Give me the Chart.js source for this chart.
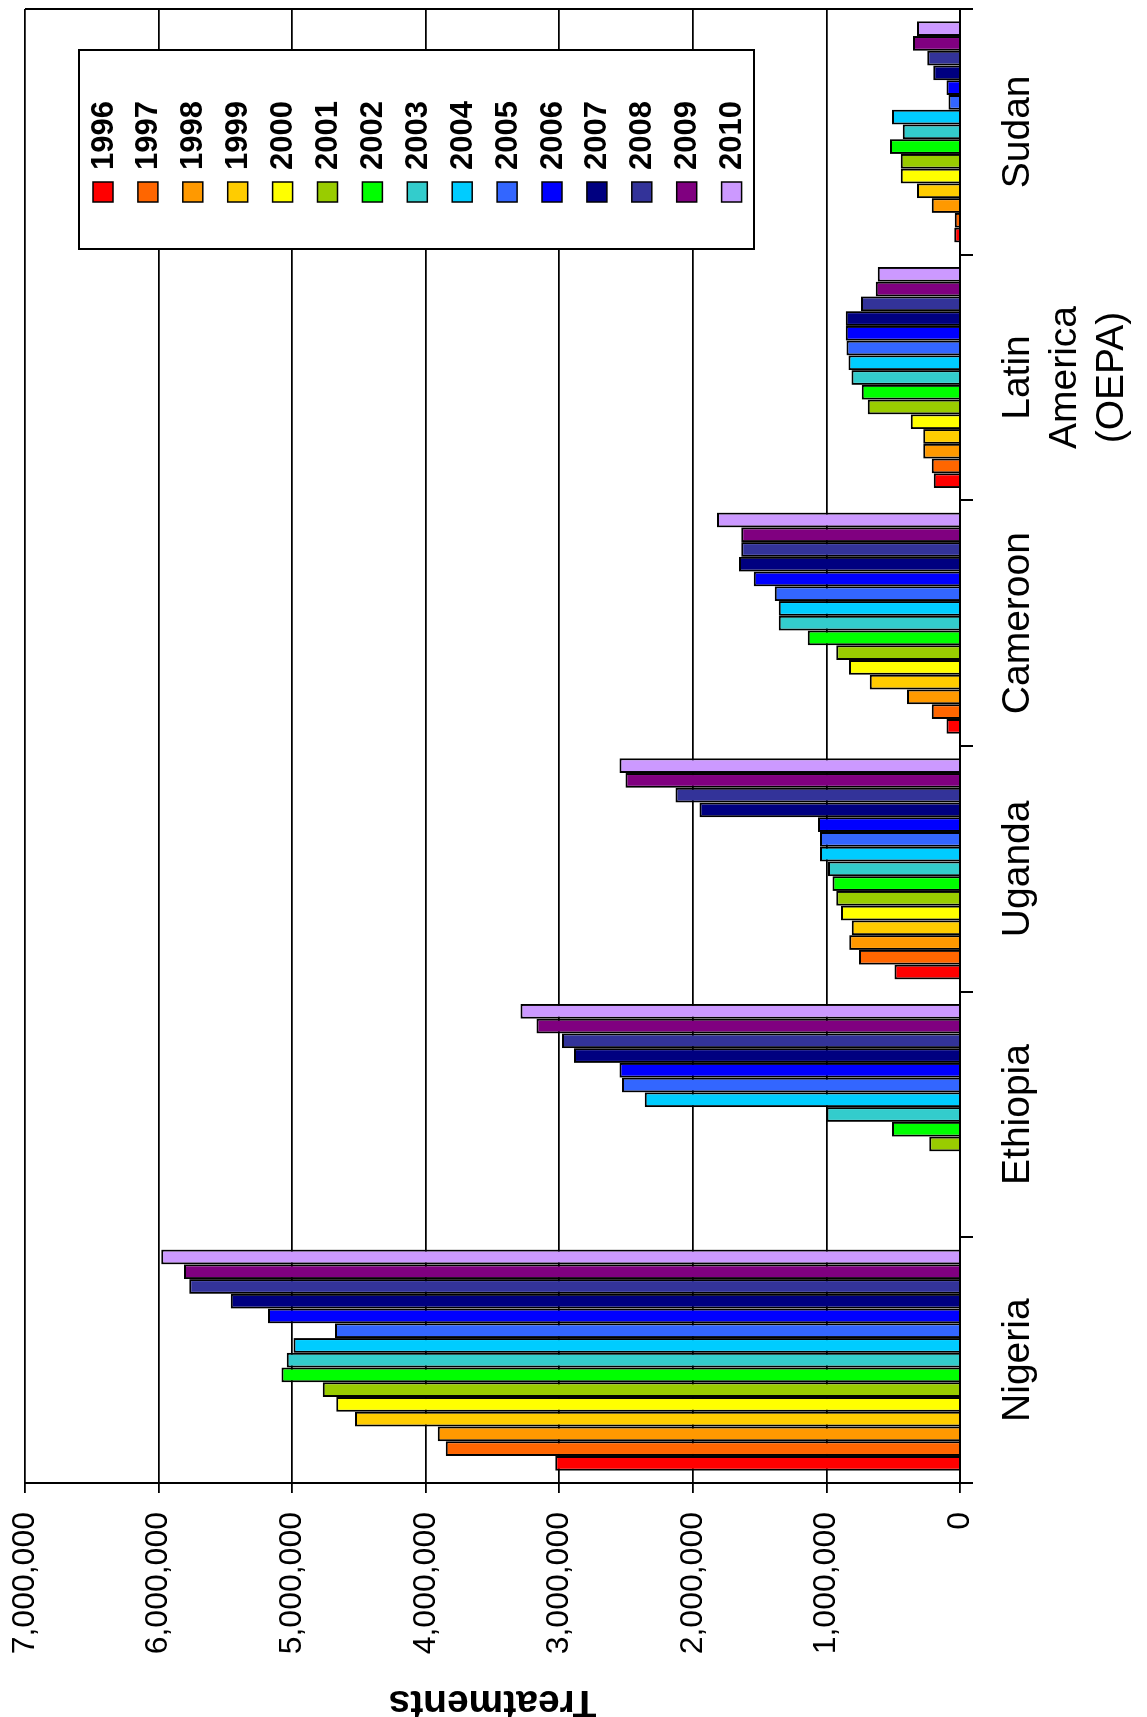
<!DOCTYPE html>
<html>
<head>
<meta charset="utf-8">
<script src="https://cdn.jsdelivr.net/npm/chart.js@4/dist/chart.umd.min.js"></script>
<style>
  html, body { margin: 0; padding: 0; background: #fff; overflow: hidden; }
  #wrap {
    position: absolute; left: 0; top: 0;
    width: 1717px; height: 1147px;
    transform-origin: 0 0;
    transform: translate(0, 1717px) rotate(-90deg);
  }
</style>
</head>
<body>
<div id="wrap"><canvas id="treatments-chart" width="1717" height="1147"></canvas></div>
<script>
const countries = ['Nigeria', 'Ethiopia', 'Uganda', 'Cameroon', ['Latin', 'America', '(OEPA)'], 'Sudan'];
const years = ['1996', '1997', '1998', '1999', '2000', '2001', '2002', '2003', '2004', '2005', '2006', '2007', '2008', '2009', '2010'];
const yearColors = ['#FF0000', '#FF6600', '#FF9900', '#FFCC00', '#FFFF00', '#99CC00', '#00FF00', '#33CCCC',
                    '#00CCFF', '#3366FF', '#0000FF', '#000080', '#333399', '#800080', '#CC99FF'];

// treatments per year, 1996..2010
const nigeria  = [3030000, 3850000, 3910000, 4530000, 4670000, 4770000, 5080000, 5040000, 4990000, 4680000, 5180000, 5460000, 5770000, 5810000, 5980000];
const ethiopia = [null, null, null, null, null, 230000, 510000, 1000000, 2360000, 2530000, 2550000, 2890000, 2980000, 3170000, 3290000];
const uganda   = [490000, 756000, 830000, 810000, 891000, 926000, 955000, 988000, 1048000, 1048000, 1063000, 1950000, 2130000, 2505000, 2550000];
const cameroon = [102000, 212000, 397000, 676000, 831000, 926000, 1140000, 1357000, 1357000, 1387000, 1544000, 1654000, 1637000, 1637000, 1820000];
const latinAm  = [197000, 212000, 275000, 275000, 369000, 691000, 736000, 813000, 835000, 850000, 855000, 855000, 741000, 631000, 616000];
const sudan    = [43000, 40000, 212000, 322000, 444000, 444000, 524000, 429000, 509000, 87000, 102000, 200000, 245000, 352000, 322000];

const valueTicks = [0, 1000000, 2000000, 3000000, 4000000, 5000000, 6000000, 7000000];

const byCountry = [nigeria, ethiopia, uganda, cameroon, latinAm, sudan];

const datasets = years.map((yr, i) => ({
    label: yr,
    data: byCountry.map(c => c[i]),
    backgroundColor: yearColors[i],
    borderColor: '#000',
    borderWidth: 2,
    categoryPercentage: 0.9,
    barPercentage: 1.0
}));

// boxed legend drawn inside the plot, plus the plot frame
const boxLegend = {
    id: 'boxLegend',
    afterDraw(chart) {
        const ctx = chart.ctx;
        const area = chart.chartArea;
        ctx.save();
        ctx.strokeStyle = '#000';
        ctx.lineWidth = 2;
        ctx.beginPath();
        ctx.moveTo(area.right, area.top);
        ctx.lineTo(area.right, area.bottom);
        ctx.stroke();

        const bx = area.right - 240, by = 79, bw = 199, bh = 675;
        ctx.fillStyle = '#fff';
        ctx.fillRect(bx, by, bw, bh);
        ctx.lineWidth = 2;
        ctx.strokeRect(bx, by, bw, bh);

        ctx.font = 'bold 31px "Liberation Sans", Arial, sans-serif';
        ctx.textBaseline = 'middle';
        ctx.textAlign = 'left';
        chart.data.datasets.forEach((ds, i) => {
            const cy = by + 24 + i * 44.9;
            ctx.fillStyle = ds.backgroundColor;
            ctx.fillRect(bx + 47, cy - 10, 20, 20);
            ctx.lineWidth = 1.5;
            ctx.strokeStyle = '#000';
            ctx.strokeRect(bx + 47, cy - 10, 20, 20);
            ctx.fillStyle = '#000';
            ctx.fillText(ds.label, bx + 79, cy + 1);
        });
        ctx.restore();
    }
};

const ctx = document.getElementById('treatments-chart').getContext('2d');
const treatmentsChart = new Chart(ctx, {
    type: 'bar',
    data: { labels: countries, datasets: datasets },
    options: {
        responsive: false,
        animation: false,
        devicePixelRatio: 1,
        layout: { padding: { left: 0, right: 9, top: 25, bottom: 0 } },
        plugins: {
            legend: { display: false },
            tooltip: { enabled: false }
        },
        scales: {
            x: {
                offset: true,
                grid: { offset: true, drawOnChartArea: false, drawTicks: true, tickLength: 13, color: '#000', lineWidth: 2 },
                border: { display: true, color: '#000', width: 2 },
                ticks: {
                    color: '#000',
                    padding: 22,
                    maxRotation: 0,
                    autoSkip: false,
                    font: { family: '"Liberation Sans", Arial, sans-serif', size: 39, lineHeight: 1.2 }
                },
                afterFit(scale) {
                    scale.height = 187;
                    scale.paddingLeft = 0;
                    scale.paddingRight = 0;
                }
            },
            y: {
                min: 0,
                max: 7000000,
                afterBuildTicks(scale) { scale.ticks = valueTicks.map(v => ({ value: v })); },
                grid: { color: '#000', lineWidth: 1.8, drawTicks: true, tickLength: 10 },
                border: { display: true, color: '#000', width: 2 },
                ticks: {
                    color: '#000',
                    padding: 19,
                    font: { family: '"Liberation Sans", Arial, sans-serif', size: 32 },
                    callback: v => v.toLocaleString('en-US')
                },
                title: {
                    display: true,
                    text: 'Treatments',
                    color: '#000',
                    padding: 0,
                    font: { family: '"Liberation Sans", Arial, sans-serif', size: 39, weight: 'bold', lineHeight: 0.8 }
                },
                afterFit(scale) {
                    scale.width = 234;
                    scale.paddingTop = 0;
                    scale.paddingBottom = 0;
                }
            }
        }
    },
    plugins: [boxLegend]
});
</script>
</body>
</html>
